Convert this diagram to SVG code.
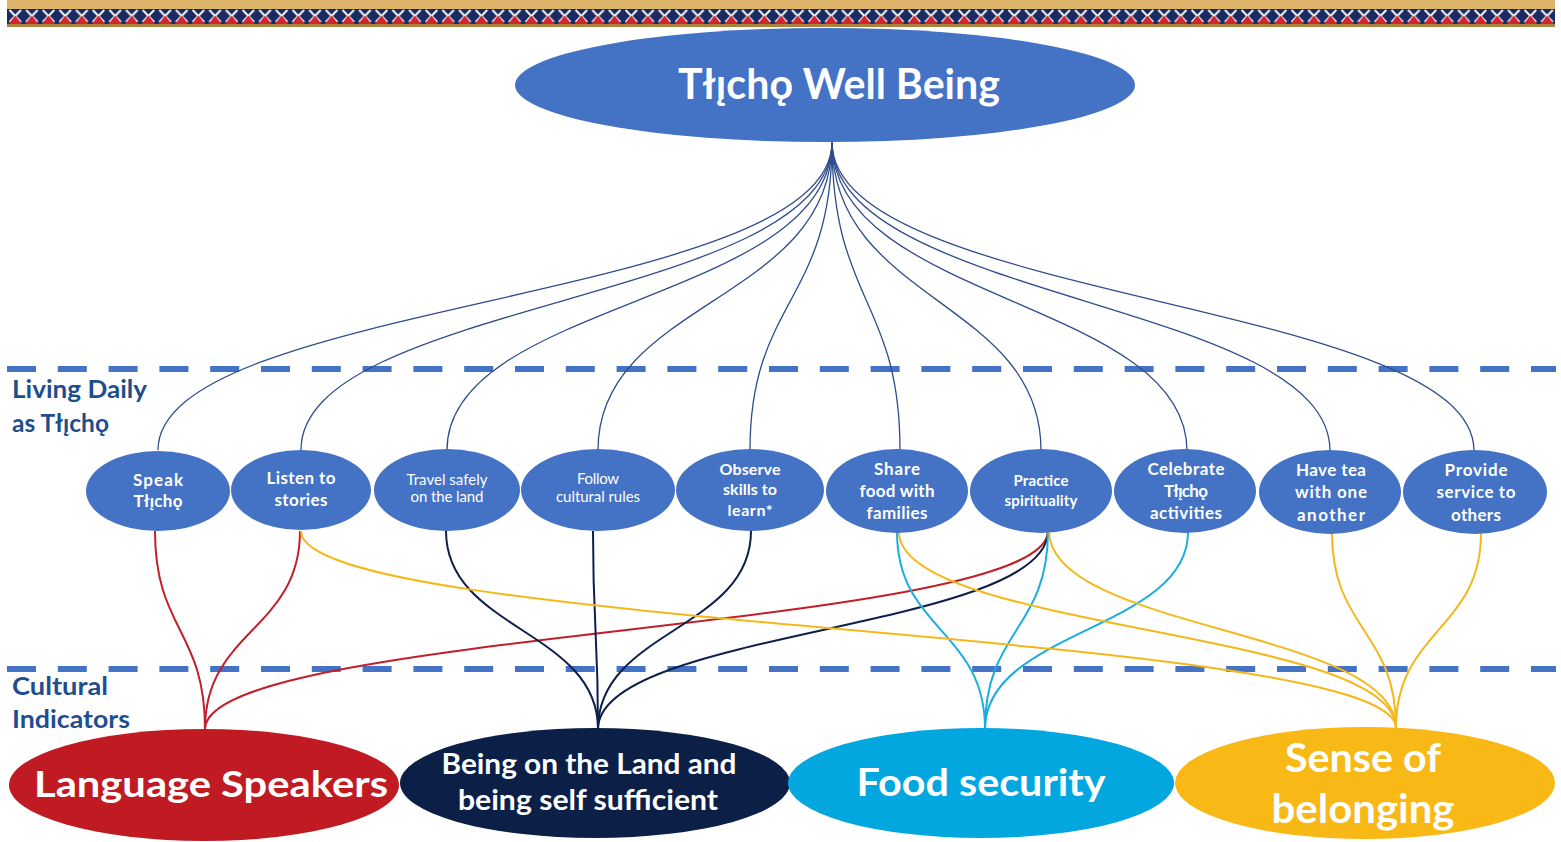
<svg xmlns="http://www.w3.org/2000/svg" width="1561" height="842" viewBox="0 0 1561 842">
  <defs>
    <!-- woven border motif: white hourglass tops over red triangles on navy -->
    <pattern id="weave" x="7" y="9" width="16.65" height="15" patternUnits="userSpaceOnUse">
      <rect width="16.65" height="15" fill="#1a2a63"/>
      <path d="M2.5,1 L14,13 M14,1 L2.5,13" stroke="#f2f2f2" stroke-width="2"/>
      <polygon points="8.3,6.5 1.5,15 15,15" fill="#d2262c"/>
    </pattern>
    <style>
      .node { fill: #4472c4; }
      .lbl { font-family: Lato, "Noto Sans", sans-serif; fill: #ffffff; text-anchor: middle; font-weight: 700; }
      .lite { font-weight: 400; }
      .band { stroke: #4472c4; stroke-width: 6; stroke-dasharray: 29 21.8; fill: none; }
      .side { font-family: Lato, "Noto Sans", sans-serif; font-weight: 700; font-size: 24px; fill: #1f4e8f; }
      .top { fill: none; stroke: #2f4d8c; stroke-width: 1.3; }
      .c { fill: none; stroke-width: 2; }
      .red { stroke: #c0202a; }
      .navy { stroke: #0d1f4a; }
      .sky { stroke: #1aaedd; }
      .gold { stroke: #f5b81c; }
    </style>
  </defs>

  <rect width="1561" height="842" fill="#ffffff"/>

  <!-- top border -->
  <g id="border">
    <rect x="7" y="0" width="1548" height="27" fill="#dcb56b"/>
    <rect x="7" y="9" width="1548" height="15" fill="url(#weave)"/>
    <rect x="7" y="24" width="1548" height="3" fill="#a9833d"/>
  </g>

  <!-- section dividers -->
  <g id="dividers">
    <line class="band" x1="7" y1="369" x2="1556" y2="369"/>
    <line class="band" x1="7" y1="669" x2="1556" y2="669"/>
  </g>

  <g id="section-labels">
    <text class="side" x="12" y="398" textLength="135" lengthAdjust="spacingAndGlyphs">Living Daily</text>
    <text class="side" x="12" y="432" textLength="97" lengthAdjust="spacingAndGlyphs">as T&#322;&#305;&#808;ch&#491;</text>
    <text class="side" x="12" y="695" textLength="96" lengthAdjust="spacingAndGlyphs">Cultural</text>
    <text class="side" x="12" y="728" textLength="118" lengthAdjust="spacingAndGlyphs">Indicators</text>
  </g>

  <!-- connectors -->
  <g id="connectors">
    <!-- fan from the top ellipse to each daily practice -->
    <path class="top" d="M832,142 C832,302 158,300 158,450"/>
    <path class="top" d="M832,142 C832,302 301,300 301,450"/>
    <path class="top" d="M832,142 C832,302 447,300 447,450"/>
    <path class="top" d="M832,142 C832,302 598,300 598,450"/>
    <path class="top" d="M832,142 C832,302 750,300 750,450"/>
    <path class="top" d="M832,142 C832,302 900,300 900,450"/>
    <path class="top" d="M832,142 C832,302 1041,300 1041,450"/>
    <path class="top" d="M832,142 C832,302 1187,300 1187,451"/>
    <path class="top" d="M832,142 C832,302 1330,300 1330,451"/>
    <path class="top" d="M832,142 C832,302 1474,300 1474,451"/>

    <!-- Language Speakers -->
    <path class="c red" d="M155,531 C155,630 205,630 205,729"/>
    <path class="c red" d="M300,531 C300,630 205,630 205,729"/>
    <path class="c red" d="M1048,531 C1048,630 205,630 205,729"/>
    <!-- Being on the Land -->
    <path class="c navy" d="M446,531 C446,630 598,630 598,729"/>
    <path class="c navy" d="M593,531 C593,630 598,630 598,729"/>
    <path class="c navy" d="M751,531 C751,630 598,630 598,729"/>
    <path class="c navy" d="M1048,531 C1048,630 598,630 598,729"/>
    <!-- Food security -->
    <path class="c sky" d="M897,532 C897,630 985,630 985,729"/>
    <path class="c sky" d="M1048,531 C1048,630 985,630 985,729"/>
    <path class="c sky" d="M1188,532 C1188,630 985,630 985,729"/>
    <!-- Sense of belonging -->
    <path class="c gold" d="M301,531 C301,630 1396,630 1396,728"/>
    <path class="c gold" d="M899,532 C899,630 1396,630 1396,728"/>
    <path class="c gold" d="M1049,531 C1049,630 1396,630 1396,728"/>
    <path class="c gold" d="M1332,533 C1332,630 1396,630 1396,728"/>
    <path class="c gold" d="M1481,533 C1481,630 1396,630 1396,728"/>
  </g>

  <!-- top node -->
  <g id="well-being">
    <ellipse cx="825" cy="85" rx="310" ry="57" fill="#4472c4"/>
    <text class="lbl" x="839" y="99" font-size="42" textLength="322" lengthAdjust="spacingAndGlyphs">T&#322;&#305;&#808;ch&#491; Well Being</text>
  </g>

  <!-- daily practices -->
  <g id="speak">
    <ellipse class="node" cx="158" cy="491" rx="72" ry="40"/>
    <text class="lbl" font-size="17"><tspan x="158" y="486" textLength="50">Speak</tspan><tspan x="158" y="507" textLength="49">T&#322;&#305;&#808;ch&#491;</tspan></text>
  </g>
  <g id="listen">
    <ellipse class="node" cx="301" cy="490" rx="70" ry="40"/>
    <text class="lbl" font-size="17"><tspan x="301" y="484" textLength="69">Listen to</tspan><tspan x="301" y="506" textLength="53">stories</tspan></text>
  </g>
  <g id="travel">
    <ellipse class="node" cx="447" cy="490" rx="73" ry="41"/>
    <text class="lbl lite" font-size="15"><tspan x="447" y="485" textLength="81">Travel safely</tspan><tspan x="447" y="502" textLength="73">on the land</tspan></text>
  </g>
  <g id="follow">
    <ellipse class="node" cx="598" cy="490" rx="77" ry="41"/>
    <text class="lbl lite" font-size="15"><tspan x="598" y="484" textLength="42">Follow</tspan><tspan x="598" y="502" textLength="84">cultural rules</tspan></text>
  </g>
  <g id="observe">
    <ellipse class="node" cx="750" cy="490" rx="74" ry="41"/>
    <text class="lbl" font-size="16"><tspan x="750" y="475" textLength="61">Observe</tspan><tspan x="750" y="495" textLength="54">skills to</tspan><tspan x="750" y="516" textLength="45">learn*</tspan></text>
  </g>
  <g id="share">
    <ellipse class="node" cx="897" cy="491" rx="71" ry="42"/>
    <text class="lbl" font-size="17"><tspan x="897" y="475" textLength="46">Share</tspan><tspan x="897" y="497" textLength="75">food with</tspan><tspan x="897" y="519" textLength="61">families</tspan></text>
  </g>
  <g id="practice">
    <ellipse class="node" cx="1041" cy="491" rx="71" ry="42"/>
    <text class="lbl" font-size="15"><tspan x="1041" y="486" textLength="55">Practice</tspan><tspan x="1041" y="506" textLength="73">spirituality</tspan></text>
  </g>
  <g id="celebrate">
    <ellipse class="node" cx="1185" cy="491" rx="71" ry="42"/>
    <text class="lbl" font-size="17"><tspan x="1186" y="475" textLength="77">Celebrate</tspan><tspan x="1186" y="497" textLength="44">T&#322;&#305;&#808;ch&#491;</tspan><tspan x="1186" y="519" textLength="72">activities</tspan></text>
  </g>
  <g id="tea">
    <ellipse class="node" cx="1330" cy="492" rx="71" ry="42"/>
    <text class="lbl" font-size="17"><tspan x="1331" y="476" textLength="70">Have tea</tspan><tspan x="1331" y="498" textLength="72">with one</tspan><tspan x="1331" y="521" textLength="68">another</tspan></text>
  </g>
  <g id="service">
    <ellipse class="node" cx="1475" cy="492" rx="72" ry="42"/>
    <text class="lbl" font-size="17"><tspan x="1476" y="476" textLength="63">Provide</tspan><tspan x="1476" y="498" textLength="79">service to</tspan><tspan x="1476" y="521" textLength="50">others</tspan></text>
  </g>

  <!-- cultural indicators -->
  <g id="language">
    <ellipse cx="204" cy="785" rx="195" ry="56" fill="#c01a23"/>
    <text class="lbl" x="211" y="797" font-size="36" textLength="354" lengthAdjust="spacingAndGlyphs">Language Speakers</text>
  </g>
  <g id="land">
    <ellipse cx="595" cy="783" rx="195" ry="55" fill="#0b1f47"/>
    <text class="lbl" font-size="28"><tspan x="589" y="774" textLength="295" lengthAdjust="spacingAndGlyphs">Being on the Land and</tspan><tspan x="588" y="810" textLength="260" lengthAdjust="spacingAndGlyphs">being self sufficient</tspan></text>
  </g>
  <g id="food">
    <ellipse cx="981" cy="783" rx="193" ry="55" fill="#02a7df"/>
    <text class="lbl" x="981" y="796" font-size="38" textLength="249" lengthAdjust="spacingAndGlyphs">Food security</text>
  </g>
  <g id="belonging">
    <ellipse cx="1365" cy="783" rx="190" ry="56" fill="#f8b815"/>
    <text class="lbl" font-size="40"><tspan x="1363" y="772" textLength="156" lengthAdjust="spacingAndGlyphs">Sense of</tspan><tspan x="1363" y="823" textLength="183" lengthAdjust="spacingAndGlyphs">belonging</tspan></text>
  </g>
</svg>
